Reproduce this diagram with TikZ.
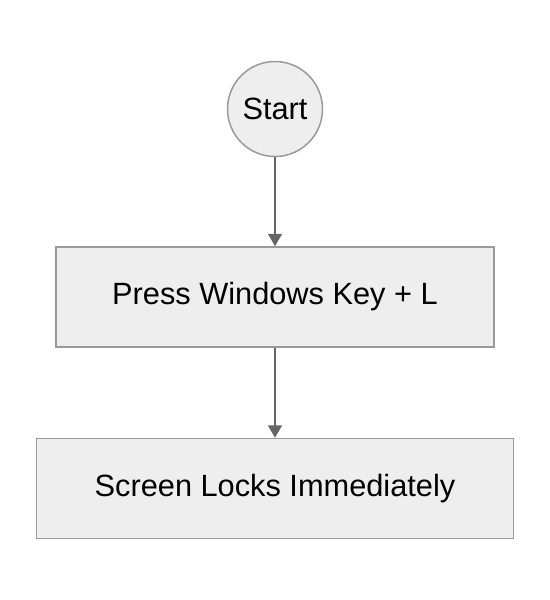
\documentclass[tikz,border=0pt]{standalone}
\usepackage{fontspec}
\setmainfont{Liberation Sans}
\usetikzlibrary{arrows.meta}
\definecolor{boxfill}{HTML}{EEEEEE}
\definecolor{boxline}{HTML}{999999}
\definecolor{arrowgray}{HTML}{666666}
\tikzset{
  stepnode/.style={draw=boxline, fill=boxfill, line width=0.85pt, minimum height=2cm,
    font=\fontsize{17.5}{20}\selectfont},
  flow/.style={->, draw=arrowgray, line width=1.1pt}
}
\begin{document}
\begin{tikzpicture}[>={Triangle[length=0.25cm, width=0.28cm]}]
      \useasboundingbox (0,0) rectangle (11,-12);
      \node [stepnode, circle, minimum size=1.9cm, inner sep=0pt, name=start] at (5.5,-2.18) {Start};
      \node [stepnode, rectangle, minimum width=8.76cm, name=press] at (5.5,-5.94) {Press Windows Key + L};
      \node [stepnode, rectangle, minimum width=9.54cm, name=locks] at (5.5,-9.77) {Screen Locks Immediately};

      \draw [flow] (start) -- (press);
      \draw [flow] (press) -- (locks);
    \end{tikzpicture}
\end{document}
